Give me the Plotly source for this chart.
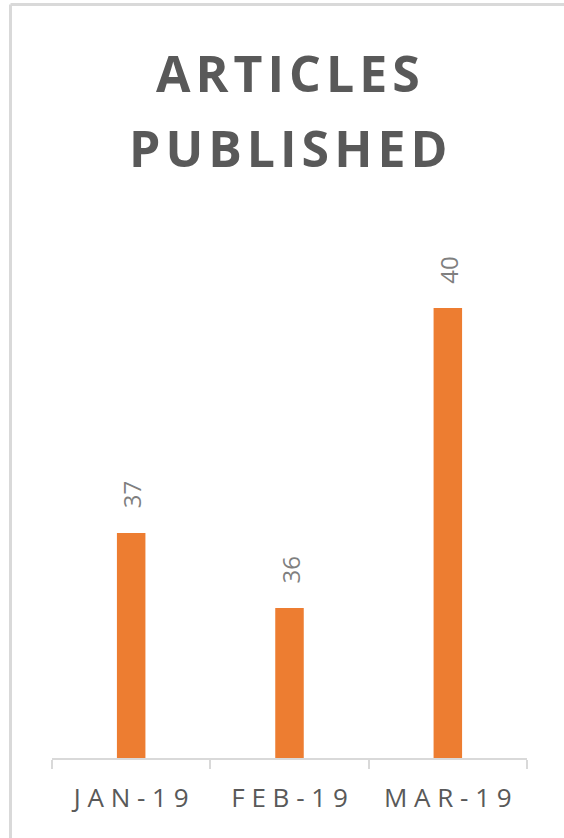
import plotly.graph_objects as go

categories = ["JAN-19", "FEB-19", "MAR-19"]
articles = [37, 36, 40]
title_lines = ["ARTICLES", "PUBLISHED"]

W, H = 564, 838
L, R, T, B = 52, 37, 233, 80
PW, PH = W - L - R, H - T - B

def px_x(x):
    return (x - L) / PW

def px_y(y):
    return (H - B - y) / PH

def spaced(s, sep=" "):
    return sep.join(list(s))

fig = go.Figure()
fig.add_trace(go.Bar(
    x=categories, y=articles, width=0.18,
    marker=dict(color="#ED7D31", line=dict(width=0)),
    hoverinfo="skip",
))

for c, v in zip(categories, articles):
    fig.add_annotation(
        x=c, y=v, xref="x", yref="y", text=str(v), textangle=-90,
        showarrow=False, xanchor="center", yanchor="middle", yshift=38,
        font=dict(family="Open Sans", size=24, color="#7f7f7f"),
    )

title_centers = [73, 148]
for line, yc in zip(title_lines, title_centers):
    fig.add_annotation(
        x=px_x(288), y=px_y(yc), xref="paper", yref="paper",
        text="<b>" + spaced(line, "\u200a") + "</b>", showarrow=False,
        xanchor="center", yanchor="middle",
        font=dict(family="Open Sans", size=50, color="#595959"),
    )

# chart border (top and left visible)
border = dict(color="#d9d9d9", width=3)
fig.add_shape(type="line", xref="paper", yref="paper",
              x0=px_x(10.5), x1=px_x(570), y0=px_y(4.5), y1=px_y(4.5), line=border)
fig.add_shape(type="line", xref="paper", yref="paper",
              x0=px_x(10.5), x1=px_x(10.5), y0=px_y(4.5), y1=px_y(845), line=border)

fig.update_layout(
    width=W, height=H,
    margin=dict(l=L, r=R, t=T, b=B),
    paper_bgcolor="white", plot_bgcolor="white",
    showlegend=False,
    xaxis=dict(
        type="category",
        tickvals=categories,
        ticktext=[spaced(c) for c in categories],
        tickson="boundaries", ticks="outside", ticklen=9, tickwidth=2,
        tickcolor="#d9d9d9", showline=True, linecolor="#d9d9d9", linewidth=2,
        showgrid=False, zeroline=False,
        tickfont=dict(family="Open Sans", size=26, color="#595959"),
        ticklabelstandoff=16,
    ),
    yaxis=dict(range=[34, 41], visible=False, showgrid=False, zeroline=False),
)

fig.write_html(
    "out.html",
    config={"displayModeBar": False, "staticPlot": True},
    post_script="document.body.style.margin='0';document.body.style.overflow='hidden';",
)
